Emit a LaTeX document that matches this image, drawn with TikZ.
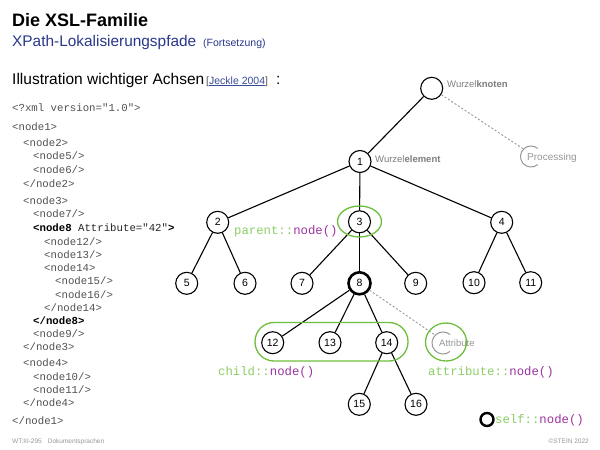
\documentclass[tikz,border=0pt]{standalone}
\usepackage{fontspec}
\setmainfont{Liberation Sans}
\setsansfont{Liberation Sans}
\setmonofont{Liberation Mono}
\definecolor{codegray}{RGB}{80,80,80}
\definecolor{labgray}{RGB}{125,125,125}
\definecolor{lightgray2}{RGB}{150,150,150}
\definecolor{loopgreen}{RGB}{110,190,60}
\definecolor{txtgreen}{RGB}{140,205,100}
\definecolor{axpurple}{RGB}{155,50,160}
\definecolor{titleblue}{RGB}{40,55,140}
\definecolor{linkblue}{RGB}{55,75,150}
\tikzset{
  txt/.style={inner sep=0pt, anchor=base west},
  code/.style={txt, text=codegray, font=\fontsize{10.7}{12}\ttfamily},
  tn/.style={circle, draw, line width=1.1pt, minimum size=22pt, inner sep=0pt, font=\fontsize{10.5}{11}\sffamily},
  edge/.style={line width=1.1pt},
  lab/.style={txt, text=labgray, font=\fontsize{9.5}{10}\sffamily},
  lab2/.style={txt, text=lightgray2, font=\fontsize{10}{10}\sffamily},
  arcg/.style={draw=lightgray2, line width=1pt},
  dsh/.style={draw=lightgray2, line width=0.9pt, dash pattern=on 2pt off 2pt},
  grn/.style={draw=loopgreen, line width=1.3pt},
  axis/.style={txt, font=\fontsize{12.3}{14}\ttfamily},
}
\begin{document}
\begin{tikzpicture}[x=1pt,y=-1pt]
\useasboundingbox (0,0) rectangle (600,450);
% headings
\node[txt, font=\fontsize{18}{20}\bfseries\sffamily] (title) at (12,26) {Die XSL-Familie};
\node[txt, text=titleblue, font=\fontsize{15.4}{17}\sffamily] (sub) at (12,46) {XPath-Lokalisierungspfade};
\node[txt, text=titleblue, font=\fontsize{10.5}{12}\sffamily] (fort) at (203,46) {(Fortsetzung)};
\node[txt, font=\fontsize{15.5}{17}\sffamily] (ill) at (12,84) {Illustration wichtiger Achsen};
\node[txt, font=\fontsize{10.5}{12}\sffamily, text=codegray] (ref) at (206,84) {[\textcolor{linkblue}{\underline{Jeckle 2004}}]};
\node[txt, font=\fontsize{15.5}{17}\sffamily] (colon) at (276,84) {:};
% code listing
\node[code] (c1) at (12,111) {<?xml version="1.0">};
\node[code] (c2) at (12,130) {<node1>};
\node[code] (c3) at (23,146) {<node2>};
\node[code] (c4) at (33,159.5) {<node5/>};
\node[code] (c5) at (33,173) {<node6/>};
\node[code] (c6) at (23,187) {</node2>};
\node[code] (c7) at (23,204) {<node3>};
\node[code] (c8) at (33,217.5) {<node7/>};
\node[code, text=black!85] (c9) at (33,231) {{\bfseries\color{black}<node8}\ Attribute="42"{\bfseries\color{black}>}};
\node[code] (c10) at (44,245) {<node12/>};
\node[code] (c11) at (44,258) {<node13/>};
\node[code] (c12) at (44,271) {<node14>};
\node[code] (c13) at (55,284.5) {<node15/>};
\node[code] (c14) at (55,298) {<node16/>};
\node[code] (c15) at (44,311) {</node14>};
\node[code, text=black, font=\fontsize{10.7}{12}\ttfamily\bfseries] (c16) at (33,324) {</node8>};
\node[code] (c17) at (33,337.5) {<node9/>};
\node[code] (c18) at (23,350.5) {</node3>};
\node[code] (c19) at (23,366.5) {<node4>};
\node[code] (c20) at (33,380) {<node10/>};
\node[code] (c21) at (33,393) {<node11/>};
\node[code] (c22) at (23,406.5) {</node4>};
\node[code] (c23) at (12,424) {</node1>};
% footer
\node[txt, text=lightgray2, font=\fontsize{6.5}{7}\sffamily] (foot1) at (12,443.5) {WT:III-295\hspace{6pt}Dokumentsprachen};
\node[txt, text=lightgray2, font=\fontsize{6.5}{7}\sffamily, anchor=base east] (foot2) at (589,443.5) {©STEIN 2022};
% tree
\node[tn] (r) at (431.7,88.3) {};
\node[tn] (n1) at (360,161.5) {1};
\node[tn] (n2) at (217.7,222.3) {2};
\node[tn] (n3) at (359.5,221.8) {3};
\node[tn] (n4) at (501.7,222.3) {4};
\node[tn] (n5) at (186.7,283.3) {5};
\node[tn] (n6) at (245,283.3) {6};
\node[tn] (n7) at (302,283.3) {7};
\node[tn, line width=2.6pt] (n8) at (359.5,283.3) {8};
\node[tn] (n9) at (415.7,283.3) {9};
\node[tn] (n10) at (474,282.7) {10};
\node[tn] (n11) at (530.7,282.7) {11};
\node[tn] (n12) at (272.7,342.7) {12};
\node[tn] (n13) at (330,342.7) {13};
\node[tn] (n14) at (386.7,342.7) {14};
\node[tn] (n15) at (359.3,404.3) {15};
\node[tn] (n16) at (416,404.3) {16};
\draw[edge] (r) -- (n1);
\draw[edge] (n1) -- (n2);
\draw[edge] (n1) -- (n3);
\draw[edge] (n1) -- (n4);
\draw[edge] (n2) -- (n5);
\draw[edge] (n2) -- (n6);
\draw[edge] (n3) -- (n7);
\draw[edge] (n3) -- (n8);
\draw[edge] (n3) -- (n9);
\draw[edge] (n4) -- (n10);
\draw[edge] (n4) -- (n11);
\draw[edge] (n8) -- (n12);
\draw[edge] (n8) -- (n13);
\draw[edge] (n8) -- (n14);
\draw[edge] (n14) -- (n15);
\draw[edge] (n14) -- (n16);
% tree labels
\node[lab] (wk) at (447,87.5) {Wurzel\textbf{knoten}};
\node[lab] (we) at (375,162.5) {Wurzel\textbf{element}};
% processing
\coordinate (pc) at (531,156.5);
\coordinate (pe) at (523.6,149.1);
\draw[arcg] (pc) ++(50:10.5) arc[start angle=50, end angle=310, radius=10.5];
\node[lab2] (pt) at (527,160.5) {Processing};
\draw[dsh] (r) -- (pe);
% attribute
\coordinate (ac) at (443,343);
\coordinate (ae) at (435.2,335.2);
\draw[arcg] (ac) ++(50:11) arc[start angle=50, end angle=310, radius=11];
\node[lab2, font=\fontsize{9.5}{10}\sffamily] (at) at (439,346.5) {Attribute};
\draw[dsh] (n8) -- (ae);
% green loops
\draw[grn] (359.5,221.5) ellipse [x radius=22, y radius=15.5];
\draw[grn, rounded corners=19pt] (255,322.5) rectangle (408,361);
\draw[grn] (446,342) ellipse [x radius=20.5, y radius=19];
% axis labels
\node[axis] (pa) at (234,234.5) {\textcolor{txtgreen}{parent::}\textcolor{axpurple}{node()}};
\node[axis] (ch) at (218,375.5) {\textcolor{txtgreen}{child::}\textcolor{axpurple}{node()}};
\node[axis] (atl) at (428,375.5) {\textcolor{txtgreen}{attribute::}\textcolor{axpurple}{node()}};
\node[circle, draw, line width=2.4pt, minimum size=13pt, inner sep=0pt] (self) at (487,419.5) {};
\node[axis] (sl) at (495,423) {\textcolor{txtgreen}{self::}\textcolor{axpurple}{node()}};
\end{tikzpicture}
\end{document}
